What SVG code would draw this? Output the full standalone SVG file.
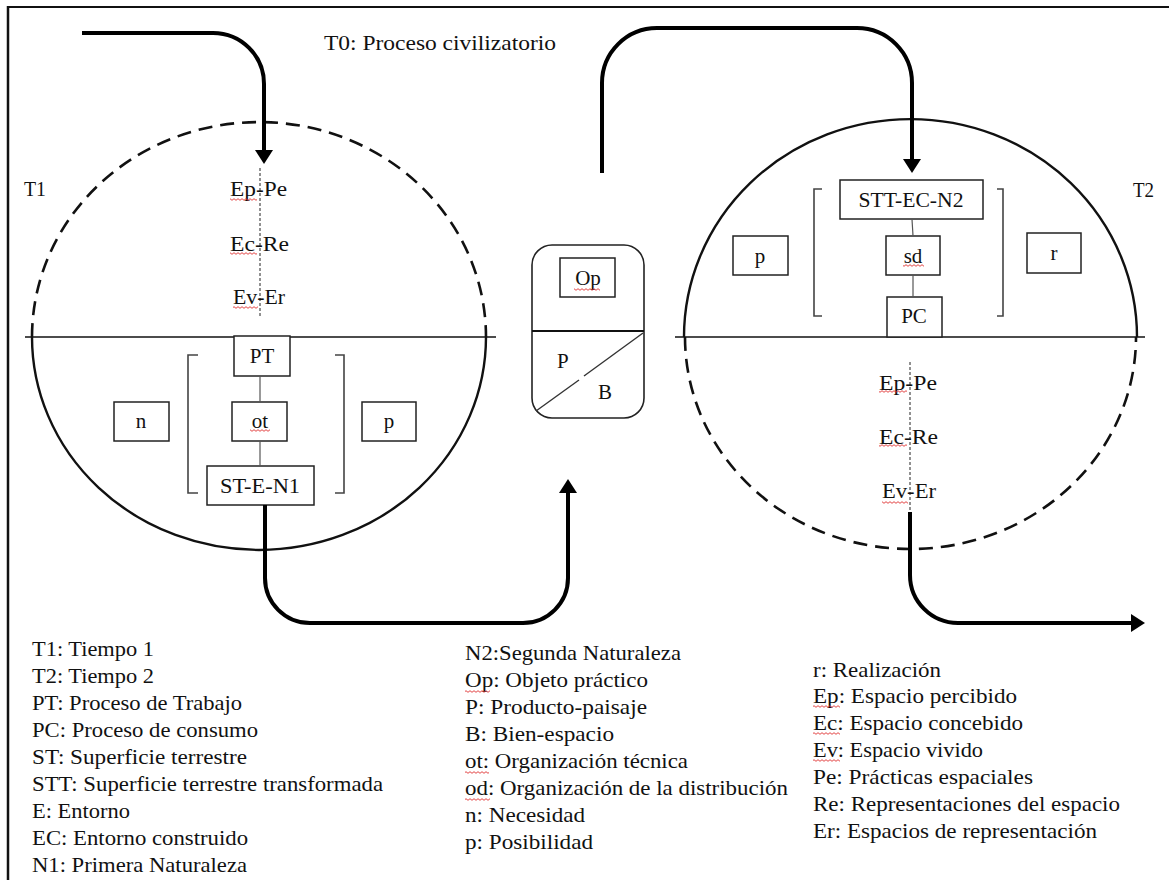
<svg xmlns="http://www.w3.org/2000/svg" width="1169" height="880" viewBox="0 0 1169 880" font-family="'Liberation Serif', 'DejaVu Serif', 'Times New Roman', serif">
<style>
text{font-family:'Liberation Serif','DejaVu Serif','Times New Roman',serif;fill:#111}
.t{font-size:21px}
.c{text-anchor:middle}
.lg{font-size:21px}
.box{fill:#fff;stroke:#222;stroke-width:1.5}
.thin{fill:none;stroke:#555;stroke-width:1.2}
.brk{fill:none;stroke:#444;stroke-width:1.6}
.ax{fill:none;stroke:#000;stroke-width:4}
.hl{stroke:#111;stroke-width:1.6}
.dash{fill:none;stroke:#111;stroke-width:2.6;stroke-dasharray:14 8}
.solid{fill:none;stroke:#111;stroke-width:2.4}
.vd{stroke:#222;stroke-width:1;stroke-dasharray:3 2}
.sq{fill:url(#sq)}
</style>
<defs>
<marker id="ah" markerUnits="userSpaceOnUse" markerWidth="14" markerHeight="18" viewBox="0 0 14 18" refX="4" refY="9" orient="auto">
<path d="M0,0 L14,9 L0,18 z" fill="#000"/>
</marker>
<pattern id="sq" width="4" height="3" patternUnits="userSpaceOnUse">
<path d="M0,2.3 L2,0.7 L4,2.3" fill="none" stroke="#e03030" stroke-width="0.9"/>
</pattern>
</defs>
<rect width="1169" height="880" fill="#fff"/>
<g id="frame">
<line x1="8" y1="7" x2="1169" y2="7" stroke="#111" stroke-width="2"/>
<line x1="8" y1="6" x2="8" y2="880" stroke="#111" stroke-width="2.5"/>
</g>
<text id="t0" class="t" x="324" y="50" textLength="232" lengthAdjust="spacingAndGlyphs">T0: Proceso civilizatorio</text>

<g id="circle-t1">
<path class="dash" d="M32,337 A227,215 0 0 1 486,337"/>
<path class="solid" d="M32,337 A227,213 0 0 0 486,337"/>
<line class="hl" x1="25" y1="337" x2="496" y2="337"/>
<text class="t" x="24" y="196" textLength="22" lengthAdjust="spacingAndGlyphs">T1</text>
<line class="vd" x1="260" y1="168" x2="260" y2="318"/>
<text class="t" x="230" y="196" textLength="57" lengthAdjust="spacingAndGlyphs">Ep-Pe</text>
<text class="t" x="230" y="251" textLength="59" lengthAdjust="spacingAndGlyphs">Ec-Re</text>
<text class="t" x="233" y="304" textLength="52" lengthAdjust="spacingAndGlyphs">Ev-Er</text>
<rect class="sq" x="230" y="198" width="27" height="3"/>
<rect class="sq" x="230" y="252" width="27" height="3"/>
<rect class="sq" x="233" y="306" width="25" height="3"/>
</g>
<g id="bracket-t1">
<path class="brk" d="M198,355 H188 V493 H198"/>
<path class="brk" d="M335,355 H344 V493 H335"/>
</g>
<g id="node-PT"><rect class="box" x="234" y="336" width="56" height="40"/><text class="t c" x="262" y="363">PT</text></g>
<g id="node-n"><rect class="box" x="114" y="402" width="55" height="39"/><text class="t c" x="141" y="428">n</text></g>
<g id="node-ot"><rect class="box" x="232" y="402" width="55" height="39"/><text class="t c" x="260" y="428">ot</text><rect class="sq" x="250" y="429" width="20" height="3"/></g>
<g id="node-p1"><rect class="box" x="362" y="402" width="54" height="39"/><text class="t c" x="389" y="428">p</text></g>
<g id="node-STEN1"><rect class="box" x="207" y="466" width="107" height="39"/><text class="t c" x="260" y="493" textLength="80" lengthAdjust="spacingAndGlyphs">ST-E-N1</text></g>

<g id="node-center">
<rect x="532" y="245" width="112" height="173" rx="20" ry="20" fill="#fff" stroke="#222" stroke-width="1.6"/>
<line x1="532" y1="331" x2="644" y2="331" stroke="#111" stroke-width="1.8"/>
<line x1="536" y1="411" x2="579" y2="380" stroke="#333" stroke-width="1.4"/>
<line x1="584" y1="376" x2="643" y2="333" stroke="#333" stroke-width="1.4"/>
<rect class="box" x="560" y="258" width="55" height="39"/>
<text class="t c" x="588" y="285">Op</text>
<rect class="sq" x="574" y="288" width="26" height="3"/>
<text class="t" x="557" y="368">P</text>
<text class="t" x="598" y="399">B</text>
</g>

<g id="circle-t2">
<path class="solid" d="M684,337 A226.5,218 0 0 1 1137,337"/>
<path class="dash" d="M685,337 A225.5,212 0 0 0 1136,337"/>
<line class="hl" x1="675" y1="337" x2="1145" y2="337"/>
<text class="t" x="1133" y="197" textLength="21" lengthAdjust="spacingAndGlyphs">T2</text>
<line class="vd" x1="910" y1="362" x2="910" y2="512"/>
<text class="t" x="879" y="390" textLength="58" lengthAdjust="spacingAndGlyphs">Ep-Pe</text>
<text class="t" x="879" y="444" textLength="59" lengthAdjust="spacingAndGlyphs">Ec-Re</text>
<text class="t" x="882" y="498" textLength="54" lengthAdjust="spacingAndGlyphs">Ev-Er</text>
<rect class="sq" x="879" y="390" width="28" height="3"/>
<rect class="sq" x="879" y="444" width="28" height="3"/>
<rect class="sq" x="882" y="501" width="26" height="3"/>
</g>
<g id="bracket-t2">
<path class="brk" d="M822,189 H814 V316 H822"/>
<path class="brk" d="M997,189 H1003 V316 H997"/>
</g>
<g id="node-STTECN2"><rect class="box" x="840" y="180" width="143" height="39"/><text class="t c" x="911" y="207" textLength="105" lengthAdjust="spacingAndGlyphs">STT-EC-N2</text></g>
<g id="node-sd"><rect class="box" x="886" y="236" width="54" height="39"/><text class="t c" x="913" y="263">sd</text><rect class="sq" x="903" y="264" width="21" height="3"/></g>
<g id="node-PC"><rect class="box" x="887" y="297" width="55" height="40"/><text class="t c" x="914" y="323">PC</text></g>
<g id="node-p2"><rect class="box" x="733" y="236" width="55" height="39"/><text class="t c" x="760" y="263">p</text></g>
<g id="node-r"><rect class="box" x="1027" y="233" width="54" height="40"/><text class="t c" x="1054" y="260">r</text></g>

<g id="connectors">
<line class="thin" x1="260" y1="376" x2="260" y2="402"/>
<line class="thin" x1="260" y1="441" x2="260" y2="466"/>
<line class="thin" x1="912" y1="219" x2="913" y2="236"/>
<line class="thin" x1="913" y1="275" x2="913" y2="297"/>
<path class="ax" marker-end="url(#ah)" d="M82,33 H213 A51,51 0 0 1 264,84 V154"/>
<path class="ax" marker-end="url(#ah)" d="M265,505 V578 A45,45 0 0 0 310,623 H523 A45,45 0 0 0 568,578 V489"/>
<path class="ax" marker-end="url(#ah)" d="M602,173 V83 A55,55 0 0 1 657,28 H857 A55,55 0 0 1 912,83 V163"/>
<path class="ax" marker-end="url(#ah)" d="M910,512 V575 A48,48 0 0 0 958,623 H1135"/>
</g>

<g id="legend-1" class="lg" xml:space="preserve">
<text x="32" y="656" textLength="122" lengthAdjust="spacingAndGlyphs">T1: Tiempo 1</text>
<text x="32" y="683" textLength="122" lengthAdjust="spacingAndGlyphs">T2: Tiempo 2</text>
<text x="32" y="710" textLength="210" lengthAdjust="spacingAndGlyphs">PT: Proceso de Trabajo</text>
<text x="32" y="737" textLength="226" lengthAdjust="spacingAndGlyphs">PC: Proceso de consumo</text>
<text x="32" y="764" textLength="215" lengthAdjust="spacingAndGlyphs">ST:  Superficie terrestre</text>
<text x="32" y="791" textLength="351" lengthAdjust="spacingAndGlyphs">STT:  Superficie terrestre transformada</text>
<text x="32" y="818" textLength="98" lengthAdjust="spacingAndGlyphs">E: Entorno</text>
<text x="32" y="845" textLength="216" lengthAdjust="spacingAndGlyphs">EC: Entorno construido</text>
<text x="32" y="872" textLength="215" lengthAdjust="spacingAndGlyphs">N1: Primera Naturaleza</text>
</g>
<g id="legend-2" class="lg">
<text x="465" y="660" textLength="216" lengthAdjust="spacingAndGlyphs">N2:Segunda Naturaleza</text>
<text x="465" y="687" textLength="183" lengthAdjust="spacingAndGlyphs">Op: Objeto práctico</text>
<text x="465" y="714" textLength="182" lengthAdjust="spacingAndGlyphs">P: Producto-paisaje</text>
<text x="465" y="741" textLength="149" lengthAdjust="spacingAndGlyphs">B: Bien-espacio</text>
<text x="465" y="768" textLength="223" lengthAdjust="spacingAndGlyphs">ot: Organización técnica</text>
<text x="465" y="795" textLength="323" lengthAdjust="spacingAndGlyphs">od: Organización de la distribución</text>
<text x="465" y="822" textLength="120" lengthAdjust="spacingAndGlyphs">n: Necesidad</text>
<text x="465" y="849" textLength="128" lengthAdjust="spacingAndGlyphs">p: Posibilidad</text>
<rect class="sq" x="465" y="690" width="25" height="3"/>
<rect class="sq" x="465" y="771" width="24" height="3"/>
<rect class="sq" x="465" y="798" width="25" height="3"/>
</g>
<g id="legend-3" class="lg" xml:space="preserve">
<text x="813" y="677" textLength="128" lengthAdjust="spacingAndGlyphs">r: Realización</text>
<text x="813" y="703" textLength="204" lengthAdjust="spacingAndGlyphs">Ep: Espacio percibido</text>
<text x="813" y="730" textLength="210" lengthAdjust="spacingAndGlyphs">Ec: Espacio concebido</text>
<text x="813" y="757" textLength="170" lengthAdjust="spacingAndGlyphs">Ev:  Espacio vivido</text>
<text x="813" y="784" textLength="220" lengthAdjust="spacingAndGlyphs">Pe: Prácticas espaciales</text>
<text x="813" y="811" textLength="307" lengthAdjust="spacingAndGlyphs">Re: Representaciones del espacio</text>
<text x="813" y="838" textLength="284" lengthAdjust="spacingAndGlyphs">Er: Espacios de representación</text>
<rect class="sq" x="813" y="705" width="27" height="3"/>
<rect class="sq" x="813" y="732" width="27" height="3"/>
<rect class="sq" x="813" y="759" width="27" height="3"/>
</g>
</svg>
